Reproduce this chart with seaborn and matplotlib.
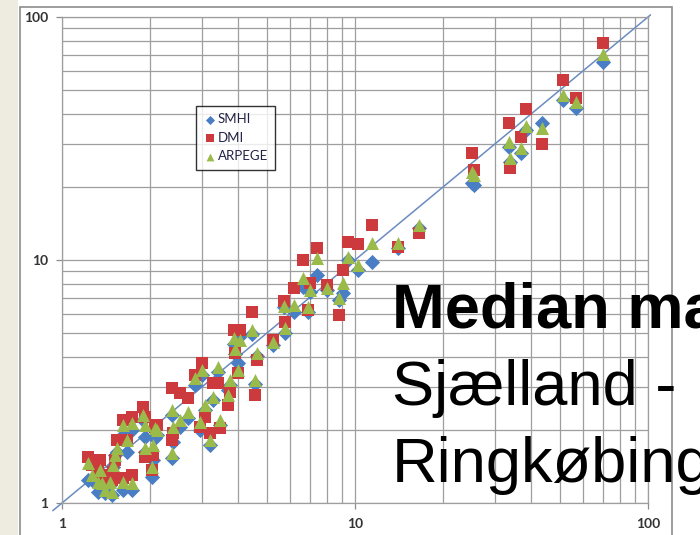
import numpy as np
import pandas as pd
import matplotlib
matplotlib.use("Agg")
import matplotlib.pyplot as plt
from matplotlib.patches import Rectangle
from matplotlib.ticker import FixedLocator, NullFormatter
import seaborn as sns

# Observed median per station (x) and the three model estimates (y)
observed = [70.2, 51.3, 56.8, 38.3, 33.5, 36.9, 43.5, 33.8, 25.1, 25.5,
            16.5, 14.0, 11.4, 10.2, 9.47, 7.42, 6.65, 9.10, 8.82, 8.02,
            7.02, 6.19, 5.72, 6.91, 4.45, 5.77, 4.05, 3.85, 3.90, 4.63,
            5.25, 3.00, 2.84, 3.41, 3.99, 3.75, 4.55, 3.69, 3.28, 2.37,
            2.53, 2.69, 3.08, 2.96, 3.46, 3.20, 2.11, 2.39, 1.89, 1.92,
            1.62, 1.73, 2.08, 1.54, 1.67, 1.52, 1.92, 2.04, 2.03, 2.37,
            1.23, 1.35, 1.49, 1.46, 1.33, 1.37, 1.62, 1.73, 1.48, 1.40,
            1.27]
smhi = [65.3, 45.5, 42.2, 34.3, 29.2, 27.5, 36.6, 25.3, 20.7, 20.4,
        13.5, 11.2, 9.81, 9.10, 10.0, 8.68, 7.74, 7.31, 6.84, 7.53,
        7.38, 6.11, 6.40, 6.11, 4.97, 5.01, 4.87, 4.50, 4.10, 4.03,
        4.47, 3.36, 3.06, 3.46, 3.77, 3.06, 3.10, 2.92, 2.65, 2.30,
        2.05, 2.24, 2.41, 2.00, 2.09, 1.73, 1.90, 1.78, 2.20, 1.87,
        1.90, 2.00, 1.85, 1.62, 1.62, 1.58, 1.62, 1.50, 1.28, 1.53,
        1.24, 1.30, 1.41, 1.19, 1.11, 1.13, 1.13, 1.13, 1.08, 1.10,
        1.24]
dmi = [78.2, 55.0, 46.4, 41.8, 36.6, 32.1, 30.0, 23.9, 27.5, 23.5,
       12.9, 11.3, 13.9, 11.6, 11.9, 11.2, 10.0, 9.10, 5.94, 7.89,
       8.04, 7.67, 6.78, 6.23, 6.11, 5.56, 5.15, 5.15, 4.14, 3.88,
       4.69, 3.77, 3.36, 3.12, 3.43, 2.86, 2.78, 2.53, 3.12, 2.97,
       2.84, 2.70, 2.26, 2.05, 2.04, 1.94, 2.09, 1.94, 2.48, 2.26,
       2.20, 2.26, 2.05, 1.82, 1.82, 1.50, 1.55, 1.58, 1.37, 1.82,
       1.55, 1.50, 1.34, 1.28, 1.37, 1.21, 1.27, 1.30, 1.24, 1.30,
       1.43]
arpege = [70.4, 47.8, 44.7, 35.6, 30.6, 28.9, 34.9, 26.3, 23.0, 22.4,
          13.9, 11.7, 11.7, 9.54, 10.3, 10.2, 8.43, 8.04, 6.98, 7.67,
          7.53, 6.53, 6.47, 6.41, 5.15, 5.25, 4.69, 4.78, 4.30, 4.14,
          4.60, 3.53, 3.27, 3.63, 3.53, 3.21, 3.21, 2.78, 2.73, 2.41,
          2.20, 2.37, 2.53, 2.15, 2.20, 1.82, 2.00, 2.05, 2.30, 2.09,
          2.09, 2.13, 2.04, 1.68, 1.82, 1.58, 1.68, 1.73, 1.41, 1.61,
          1.46, 1.37, 1.43, 1.22, 1.22, 1.21, 1.22, 1.21, 1.11, 1.13,
          1.30]

series_names = ["SMHI", "DMI", "ARPEGE"]
series_colors = {"SMHI": "#4A7EC4", "DMI": "#CC3A3D", "ARPEGE": "#9ABB4A"}
series_markers = {"SMHI": "D", "DMI": "s", "ARPEGE": "^"}
series_sizes = {"SMHI": 60, "DMI": 80, "ARPEGE": 88}

df = pd.concat([
    pd.DataFrame({"observed": observed, "model": vals, "source": name})
    for name, vals in zip(series_names, [smhi, dmi, arpege])
], ignore_index=True)

sns.set_style("white")
plt.rcParams["font.family"] = ["Lato", "DejaVu Sans"]

fig = plt.figure(figsize=(7.0, 5.35), dpi=100)
W, H = 700, 535

# slide background strip and chart frame (behind the axes)
fig.patches.append(Rectangle((0, 0), 18 / W, 1, transform=fig.transFigure,
                             facecolor="#EEECE1", edgecolor="none", zorder=-3))
fig.patches.append(Rectangle((20 / W, -0.05), (672 - 20) / W, 1.05 - 7 / H,
                             transform=fig.transFigure, facecolor="white",
                             edgecolor="#8C8C8C", linewidth=1.2, zorder=-2))

ax = fig.add_axes([62 / W, 1 - 503 / H, (648 - 62) / W, (503 - 17) / H])
ax.set_zorder(1)
ax.set_facecolor("none")
ax.set_xscale("log")
ax.set_yscale("log")
ax.set_xlim(1, 100)
ax.set_ylim(1, 100)

# 1:1 reference line
ax.plot([0.93, 102], [0.93, 102], color="#6A8CC0", lw=1.1, zorder=2,
        clip_on=False)

for name in series_names:
    sub = df[df["source"] == name]
    sns.scatterplot(data=sub, x="observed", y="model", ax=ax,
                    color=series_colors[name], marker=series_markers[name],
                    s=series_sizes[name], linewidth=0, label=name, zorder=3)

minor = [v * d for d in (1, 10) for v in range(2, 10)]
ax.xaxis.set_major_locator(FixedLocator([1, 10, 100]))
ax.yaxis.set_major_locator(FixedLocator([1, 10, 100]))
ax.xaxis.set_minor_locator(FixedLocator(minor))
ax.yaxis.set_minor_locator(FixedLocator(minor))
ax.xaxis.set_minor_formatter(NullFormatter())
ax.yaxis.set_minor_formatter(NullFormatter())
ax.set_xticklabels(["1", "10", "100"])
ax.set_yticklabels(["1", "10", "100"])
ax.grid(True, which="both", color="#9E9E9E", linewidth=0.9)
ax.set_axisbelow(True)
ax.tick_params(which="major", direction="out", length=4, width=0.9,
               color="#8C8C8C", labelsize=10, labelcolor="#333333",
               bottom=True, left=True)
ax.tick_params(axis="x", which="major", pad=7)
ax.tick_params(axis="y", which="major", pad=6)
ax.tick_params(which="minor", length=0)
for lbl in ax.get_xticklabels() + ax.get_yticklabels():
    lbl.set_fontweight("bold")
for sp in ax.spines.values():
    sp.set_color("#9E9E9E")
    sp.set_linewidth(0.9)
ax.set_xlabel("")
ax.set_ylabel("")

handles, labels = ax.get_legend_handles_labels()
leg = ax.legend(handles, labels, loc="upper left",
                bbox_to_anchor=((196 - 62) / 586, 1 - (106 - 17) / 486),
                borderaxespad=0, frameon=True, fancybox=False,
                edgecolor="black", fontsize=9.5, handletextpad=0.1,
                handlelength=1.0, labelspacing=0.5, borderpad=0.55,
                markerscale=0.6)
leg.get_frame().set_linewidth(1.0)
for t in leg.get_texts():
    t.set_color("#222244")

# overlaid slide caption
cap_font = ["Liberation Sans", "DejaVu Sans"]
fig.text(392 / W, 1 - 327 / H, "Median ma", fontsize=45.5, fontweight="bold",
         family=cap_font, va="baseline", ha="left", color="black", zorder=5)
fig.text(392 / W, 1 - 405 / H, "Sjælland -", fontsize=45.5,
         family=cap_font, va="baseline", ha="left", color="black", zorder=5)
fig.text(392 / W, 1 - 482 / H, "Ringkøbing", fontsize=45.5,
         family=cap_font, va="baseline", ha="left", color="black", zorder=5)

fig.savefig("out.png", dpi=100)
